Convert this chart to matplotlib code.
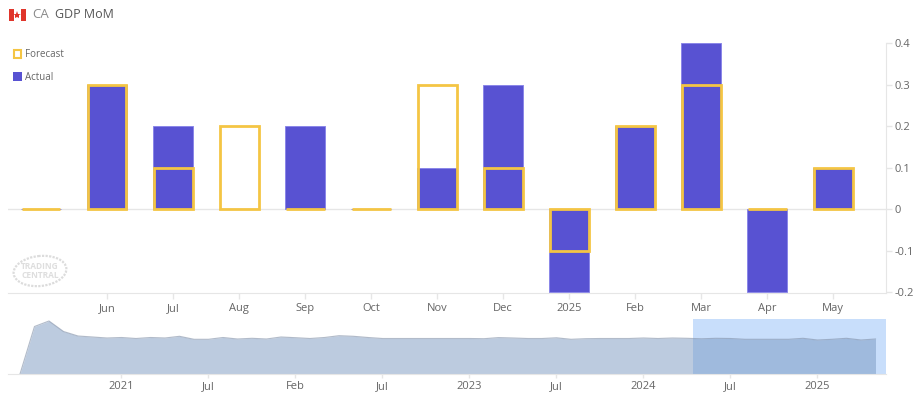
import matplotlib
matplotlib.use('Agg')
import matplotlib.pyplot as plt
from matplotlib.patches import Ellipse, Rectangle

W, H = 914, 394
plt.rcParams['font.family'] = ['Open Sans', 'DejaVu Sans']

# monthly GDP, May 2024 .. May 2025
months = ['', 'Jun', 'Jul', 'Aug', 'Sep', 'Oct', 'Nov', 'Dec', '2025', 'Feb', 'Mar', 'Apr', 'May']
forecast = [0, 0.3, 0.1, 0.2, 0, 0, 0.3, 0.1, -0.1, 0.2, 0.3, 0, 0.1]
actual = [0, 0.3, 0.2, 0, 0.2, 0, 0.1, 0.3, -0.2, 0.2, 0.4, -0.2, 0.1]
y_ticks = [0.4, 0.3, 0.2, 0.1, 0, -0.1, -0.2]
y_labels = ['0.4', '0.3', '0.2', '0.1', '0', '-0.1', '-0.2']

# navigator series, one value per month from Jun 2020
nav_values = [0, 47.5, 53, 42.5, 38, 37, 36, 36.5, 35.5, 36.5, 36, 37.7, 34.7, 34.7, 36.5, 35,
              35.7, 35, 37, 36.3, 35.5, 36.5, 38.3, 37.7, 36.5, 35.5, 35.5, 35.5, 35.5, 35.5,
              35.5, 35.5, 35.3, 36.4, 36, 35.5, 35.5, 36.2, 34.7, 35.3, 35.5, 35.5, 35.5, 36,
              35.5, 36, 35.7, 35.2, 35.7, 35.5, 34.7, 34.7, 34.7, 34.7, 35.7, 34, 34.7, 35.7,
              34, 35]
nav_ticks = [7, 13, 19, 25, 31, 37, 43, 49, 55]
nav_labels = ['2021', 'Jul', 'Feb', 'Jul', '2023', 'Jul', '2024', 'Jul', '2025']

PURPLE = '#5852d2'
YELLOW = '#f4c544'
GRID = '#e6e6e6'
TXT = '#666666'


def axes_px(x0, y0, x1, y1):
    return fig.add_axes([x0 / W, 1 - y1 / H, (x1 - x0) / W, (y1 - y0) / H])


fig = plt.figure(figsize=(W / 100, H / 100), dpi=100)

# main chart
ax = axes_px(8, 43, 886, 293)
x = list(range(len(months)))
ax.bar(x, actual, width=0.6, color=PURPLE, edgecolor='#8a86e8', linewidth=0.7, zorder=2)
ax.bar(x, forecast, width=0.59, color='none', edgecolor=YELLOW, linewidth=2, zorder=3)
ax.axhline(0, color=GRID, linewidth=1, zorder=1)
ax.set_xlim(-0.5, 12.8)
ax.set_ylim(-0.2024, 0.4)
ax.set_xticks(x[1:])
ax.set_xticklabels(months[1:], fontsize=8, color=TXT)
ax.yaxis.tick_right()
ax.set_yticks(y_ticks)
ax.set_yticklabels(y_labels, fontsize=8, color=TXT)
ax.tick_params(axis='x', length=4, width=1, color=GRID, pad=3)
ax.tick_params(axis='y', length=4, width=1, color=GRID, pad=2)
for s in ['top', 'left']:
    ax.spines[s].set_visible(False)
ax.spines['right'].set_color(GRID)
ax.spines['bottom'].set_color(GRID)

# navigator
nav = axes_px(8, 319, 886, 374)
nav_x = list(range(len(nav_values)))
nav.axvspan((693 - 20) / 14.5, 866 / 14.5, color='#c8defb', linewidth=0, zorder=0)
nav.fill_between(nav_x, nav_values, 0, color='#7292bc', alpha=0.47, linewidth=0, zorder=1)
nav.plot(nav_x, nav_values, color='#7f8ea6', alpha=0.6, linewidth=0.8, zorder=2)
nav.set_xlim(-12 / 14.5, 866 / 14.5)
nav.set_ylim(0, 55)
nav.set_xticks(nav_ticks)
nav.set_xticklabels(nav_labels, fontsize=8, color=TXT)
nav.set_yticks([])
nav.tick_params(axis='x', length=3, width=1, color=GRID, pad=2)
for s in ['top', 'left', 'right']:
    nav.spines[s].set_visible(False)
nav.spines['bottom'].set_color(GRID)

# everything below is placed in pixels on an overlay
ov = fig.add_axes([0, 0, 1, 1])
ov.set_xlim(0, W)
ov.set_ylim(H, 0)
ov.axis('off')
ov.patch.set_alpha(0)

# flag
ov.add_patch(Rectangle((9, 9), 16.5, 12, color='white', linewidth=0))
ov.add_patch(Rectangle((9, 9), 5, 12, color='#e0352b', linewidth=0))
ov.add_patch(Rectangle((20.5, 9), 5, 12, color='#e0352b', linewidth=0))
ov.plot([17.2], [15], marker='*', markersize=6, color='#e0352b', markeredgewidth=0)

ov.text(32, 14.5, 'CA', fontsize=9.5, color='#8a8a8a', va='center')
ov.text(55, 14.5, 'GDP MoM', fontsize=9, color='#555555', va='center')

# legend
ov.add_patch(Rectangle((13.5, 50), 7.5, 7.5, facecolor='white', edgecolor=YELLOW, linewidth=1.5))
ov.text(25, 54, 'Forecast', fontsize=7, color=TXT, va='center')
ov.add_patch(Rectangle((12.5, 72), 9, 9, facecolor=PURPLE, linewidth=0))
ov.text(25, 77, 'Actual', fontsize=7, color=TXT, va='center')

# watermark
ov.add_patch(Ellipse((40, 271), 53, 30, angle=-6, fill=False, edgecolor='#dcdcdc', linewidth=1.6,
                     linestyle=(0, (1, 0.6))))
ov.text(40, 271, 'TRADING\nCENTRAL', fontsize=6, fontweight='bold', color='#dedede', ha='center',
        va='center', linespacing=0.95)

fig.savefig('out.png', dpi=100)
